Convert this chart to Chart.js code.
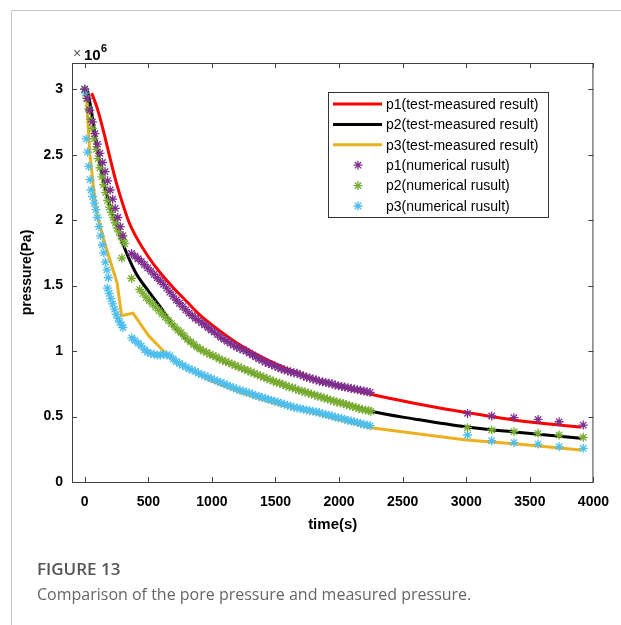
<!DOCTYPE html>
<html>
<head>
<meta charset="utf-8">
<script src="https://cdn.jsdelivr.net/npm/chart.js@4.4.1/dist/chart.umd.min.js"></script>
<style>
  html, body { margin: 0; padding: 0; background: #fff; }
  #wrap { position: relative; width: 621px; height: 625px; overflow: hidden; }
  #frame { position: absolute; left: 11px; top: 10px; right: 0; bottom: 0;
           border-top: 1px solid #c8c8c8; border-left: 1px solid #c8c8c8; }
  #chart { position: absolute; left: 0; top: 0; }
  .capTitle { position: absolute; left: 37px; top: 557px; font: 600 17px "Open Sans"; color: #555; }
  .capText { position: absolute; left: 37px; top: 583px; font: 16px "Open Sans"; color: #666; }
</style>
</head>
<body>
<div id="wrap">
  <div id="frame"></div>
  <canvas id="chart" width="621" height="625"></canvas>
  <div class="capTitle">FIGURE 13</div>
  <div class="capText">Comparison of the pore pressure and measured pressure.</div>
</div>
<script>
// pressure values in units of 10^6 Pa, time in s
const p1TestTime = [55, 100, 150, 200, 250, 300, 350, 400, 500, 600, 700, 800, 900, 1000, 1200, 1400, 1600, 1800, 2000, 2250, 2600, 3000, 3400, 3900];
const p1TestVal  = [2.97, 2.85, 2.67, 2.47, 2.28, 2.12, 1.98, 1.88, 1.72, 1.59, 1.48, 1.38, 1.28, 1.20, 1.06, 0.95, 0.86, 0.79, 0.73, 0.67, 0.60, 0.53, 0.47, 0.42];

const p2TestTime = [20, 50, 100, 150, 200, 250, 300, 400, 500, 600, 700, 800, 900, 1000, 1200, 1400, 1600, 1800, 2000, 2250, 2600, 3000, 3400, 3900];
const p2TestVal  = [3.0, 2.85, 2.53, 2.29, 2.10, 1.96, 1.82, 1.60, 1.46, 1.33, 1.19, 1.09, 1.02, 0.965, 0.88, 0.80, 0.73, 0.67, 0.61, 0.54, 0.48, 0.42, 0.38, 0.335];

const p3TestTime = [10, 25, 41, 60, 75, 100, 150, 200, 255, 290, 380, 500, 640, 750, 1000, 1250, 1500, 1750, 2000, 2250, 2600, 3000, 3400, 3900];
const p3TestVal  = [3.0, 2.75, 2.50, 2.33, 2.20, 2.03, 1.85, 1.69, 1.52, 1.27, 1.29, 1.12, 0.98, 0.90, 0.77, 0.675, 0.60, 0.54, 0.475, 0.415, 0.37, 0.32, 0.29, 0.245];

const p1NumTime = [0, 20, 40, 60, 80, 100, 120, 140, 160, 180, 200, 220, 240, 260, 280, 300,
  368, 395, 420, 445, 470, 495, 520, 545, 570, 595, 620, 645, 670, 695, 720, 745, 770, 795, 820, 845, 870, 895, 920, 945, 970, 995,
  1020, 1045, 1070, 1095, 1120, 1145, 1170, 1195, 1220, 1245, 1270, 1295, 1320, 1345, 1370, 1395, 1420, 1445, 1470, 1495,
  1520, 1545, 1570, 1595, 1620, 1645, 1670, 1695, 1720, 1745, 1770, 1795, 1820, 1845, 1870, 1895, 1920, 1945, 1970, 1995,
  2020, 2045, 2070, 2095, 2120, 2145, 2170, 2195, 2220, 2245,
  3010, 3200, 3375, 3565, 3730, 3920];
const p1NumVal  = [3.0, 2.93, 2.84, 2.75, 2.66, 2.58, 2.51, 2.44, 2.37, 2.30, 2.23, 2.16, 2.09, 2.02, 1.95, 1.88,
  1.745, 1.725, 1.705, 1.685, 1.66, 1.635, 1.61, 1.585, 1.56, 1.535, 1.51, 1.48, 1.45, 1.42, 1.39, 1.365, 1.34, 1.315, 1.29, 1.27, 1.25, 1.235, 1.215, 1.20, 1.18, 1.16,
  1.145, 1.125, 1.105, 1.09, 1.075, 1.06, 1.045, 1.03, 1.02, 1.01, 1.0, 0.985, 0.97, 0.955, 0.94, 0.93, 0.915, 0.905, 0.895, 0.885,
  0.875, 0.865, 0.855, 0.85, 0.84, 0.835, 0.83, 0.82, 0.81, 0.80, 0.795, 0.785, 0.78, 0.77, 0.765, 0.76, 0.755, 0.75, 0.74, 0.735,
  0.73, 0.725, 0.72, 0.715, 0.71, 0.705, 0.70, 0.695, 0.69, 0.685,
  0.524, 0.504, 0.491, 0.478, 0.46, 0.435];

const p2NumTime = [0, 15, 30, 45, 60, 75, 90, 105, 120, 135, 150, 165, 180, 195, 210, 225, 240, 255, 270, 285, 300, 315, 292, 368,
  433, 458, 483, 508, 533, 558, 583, 608, 633, 658, 683, 708, 733, 758, 783, 808, 833, 858, 883, 908, 933, 958, 983,
  1008, 1033, 1058, 1083, 1108, 1133, 1158, 1183, 1208, 1233, 1258, 1283, 1308, 1333, 1358, 1383, 1408, 1433, 1458, 1483,
  1508, 1533, 1558, 1583, 1608, 1633, 1658, 1683, 1708, 1733, 1758, 1783, 1808, 1833, 1858, 1883, 1908, 1933, 1958, 1983,
  2008, 2033, 2058, 2083, 2108, 2133, 2158, 2183, 2208, 2233, 2250,
  3010, 3200, 3375, 3565, 3730, 3920];
const p2NumVal  = [3.0, 2.93, 2.85, 2.77, 2.70, 2.62, 2.54, 2.47, 2.40, 2.33, 2.27, 2.21, 2.15, 2.10, 2.06, 2.02, 1.98, 1.94, 1.91, 1.88, 1.85, 1.82, 1.71, 1.555,
  1.47, 1.44, 1.41, 1.385, 1.36, 1.335, 1.31, 1.285, 1.26, 1.235, 1.21, 1.185, 1.16, 1.14, 1.115, 1.09, 1.07, 1.05, 1.03, 1.015, 1.0, 0.99, 0.975,
  0.965, 0.955, 0.94, 0.93, 0.92, 0.91, 0.90, 0.89, 0.88, 0.87, 0.86, 0.85, 0.84, 0.83, 0.82, 0.81, 0.80, 0.79, 0.78, 0.77,
  0.76, 0.755, 0.745, 0.735, 0.725, 0.72, 0.71, 0.70, 0.695, 0.685, 0.68, 0.67, 0.665, 0.655, 0.65, 0.64, 0.635, 0.625, 0.62, 0.61,
  0.605, 0.60, 0.59, 0.585, 0.575, 0.57, 0.56, 0.555, 0.55, 0.545, 0.54,
  0.415, 0.397, 0.384, 0.372, 0.359, 0.341];

const p3NumTime = [0, 5, 12, 22, 32, 42, 50, 62, 75, 88, 100, 112, 125, 138, 150, 162, 174, 186,
  178, 192, 206, 220, 234, 248, 262, 276, 290, 301,
  370, 395, 420, 445, 470, 495, 520, 545, 570, 595, 620, 645, 670, 695, 720, 745, 770, 795, 820, 845, 870, 895, 920, 945, 970, 995,
  1020, 1045, 1070, 1095, 1120, 1145, 1170, 1195, 1220, 1245, 1270, 1295, 1320, 1345, 1370, 1395, 1420, 1445, 1470, 1495,
  1520, 1545, 1570, 1595, 1620, 1645, 1670, 1695, 1720, 1745, 1770, 1795, 1820, 1845, 1870, 1895, 1920, 1945, 1970, 1995,
  2020, 2045, 2070, 2095, 2120, 2145, 2170, 2195, 2220, 2245,
  3010, 3200, 3375, 3565, 3730, 3920];
const p3NumVal  = [3.0, 2.97, 2.62, 2.52, 2.41, 2.31, 2.23, 2.18, 2.13, 2.08, 2.02, 1.95, 1.88, 1.81, 1.75, 1.68, 1.62, 1.56,
  1.48, 1.44, 1.40, 1.36, 1.32, 1.28, 1.25, 1.22, 1.20, 1.18,
  1.10, 1.08, 1.06, 1.04, 1.01, 0.99, 0.98, 0.975, 0.97, 0.97, 0.975, 0.97, 0.965, 0.94, 0.92, 0.905, 0.89, 0.88, 0.865, 0.855, 0.845, 0.83, 0.82, 0.81, 0.80, 0.79,
  0.78, 0.77, 0.76, 0.75, 0.74, 0.73, 0.72, 0.71, 0.70, 0.695, 0.685, 0.68, 0.67, 0.66, 0.655, 0.645, 0.64, 0.63, 0.625, 0.615,
  0.61, 0.60, 0.595, 0.585, 0.58, 0.57, 0.565, 0.56, 0.555, 0.55, 0.545, 0.54, 0.535, 0.53, 0.52, 0.515, 0.51, 0.505, 0.495, 0.49,
  0.485, 0.48, 0.47, 0.465, 0.46, 0.455, 0.445, 0.44, 0.435, 0.43,
  0.359, 0.315, 0.30, 0.29, 0.27, 0.257];

const xTicks = [0, 500, 1000, 1500, 2000, 2500, 3000, 3500, 4000];
const xTickLabels = ['0', '500', '1000', '1500', '2000', '2500', '3000', '3500', '4000'];
const yTicks = [0, 0.5, 1, 1.5, 2, 2.5, 3];
const yTickLabels = ['0', '0.5', '1', '1.5', '2', '2.5', '3'];

function pts(t, v) {
  return t.map((x, i) => ({ x: x, y: v[i] }));
}

function lineSet(label, t, v, color, smooth) {
  return {
    label, data: pts(t, v), showLine: true, borderColor: color, backgroundColor: color,
    borderWidth: 3, pointRadius: 0, tension: 0,
    cubicInterpolationMode: smooth ? 'monotone' : 'default', order: 2
  };
}

function starSet(label, t, v, color) {
  return {
    label, data: pts(t, v), showLine: false, borderColor: color, backgroundColor: color,
    pointStyle: 'star', pointRadius: 4.5, pointBorderWidth: 1.3, order: 1
  };
}

const AXIS = '#404040';
const FAMILY = '"Liberation Sans", Arial, Helvetica, sans-serif';
const tickFont = { family: FAMILY, size: 14, weight: 'bold' };

// matlab style box with inward ticks and the x10^6 exponent
const boxPlugin = {
  id: 'boxPlugin',
  afterDraw(chart) {
    const { ctx, chartArea: a, scales } = chart;
    ctx.save();
    ctx.strokeStyle = AXIS;
    ctx.lineWidth = 1;
    ctx.strokeRect(a.left + 0.5, a.top + 0.5, a.right - a.left - 1, a.bottom - a.top);
    ctx.beginPath();
    xTicks.forEach(v => {
      const x = Math.round(scales.x.getPixelForValue(v)) + 0.5;
      ctx.moveTo(x, a.bottom); ctx.lineTo(x, a.bottom - 5);
      ctx.moveTo(x, a.top); ctx.lineTo(x, a.top + 5);
    });
    yTicks.forEach(v => {
      const y = Math.round(scales.y.getPixelForValue(v)) + 0.5;
      ctx.moveTo(a.left, y); ctx.lineTo(a.left + 5, y);
      ctx.moveTo(a.right, y); ctx.lineTo(a.right - 5, y);
    });
    ctx.stroke();

    ctx.textBaseline = 'alphabetic';
    ctx.fillStyle = '#555';
    ctx.font = '14px ' + FAMILY;
    ctx.fillText('\u00d7', a.left + 1, a.top - 5);
    ctx.fillStyle = '#000';
    ctx.font = 'bold 15px ' + FAMILY;
    ctx.fillText('10', a.left + 12, a.top - 3);
    ctx.font = 'bold 11px ' + FAMILY;
    ctx.fillText('6', a.left + 29, a.top - 11);
    ctx.restore();
  }
};

const legendPlugin = {
  id: 'legendPlugin',
  afterDraw(chart) {
    const ctx = chart.ctx;
    const x0 = 328, y0 = 92, w = 220, h = 125;
    ctx.save();
    ctx.fillStyle = '#fff';
    ctx.fillRect(x0, y0, w, h);
    ctx.strokeStyle = '#333';
    ctx.lineWidth = 1;
    ctx.strokeRect(x0 + 0.5, y0 + 0.5, w, h);
    ctx.font = '14px ' + FAMILY;
    ctx.textBaseline = 'middle';
    chart.data.datasets.forEach((ds, i) => {
      const y = y0 + 12 + i * 20.4;
      ctx.strokeStyle = ds.borderColor;
      if (ds.showLine) {
        ctx.lineWidth = 3;
        ctx.beginPath();
        ctx.moveTo(x0 + 5, y); ctx.lineTo(x0 + 54, y);
        ctx.stroke();
      } else {
        ctx.lineWidth = 1.3;
        Chart.helpers.drawPoint(ctx, { pointStyle: 'star', radius: 4.5, borderWidth: 1.3 }, x0 + 30, y);
      }
      ctx.fillStyle = '#000';
      ctx.fillText(ds.label, x0 + 58, y + 1);
    });
    ctx.restore();
  }
};

new Chart(document.getElementById('chart'), {
  type: 'scatter',
  data: {
    datasets: [
      lineSet('p1(test-measured result)', p1TestTime, p1TestVal, '#ff0000', true),
      lineSet('p2(test-measured result)', p2TestTime, p2TestVal, '#000000', true),
      lineSet('p3(test-measured result)', p3TestTime, p3TestVal, '#edb120', false),
      starSet('p1(numerical rusult)', p1NumTime, p1NumVal, '#7e2f8e'),
      starSet('p2(numerical rusult)', p2NumTime, p2NumVal, '#77ac30'),
      starSet('p3(numerical rusult)', p3NumTime, p3NumVal, '#4dbeee')
    ]
  },
  options: {
    responsive: false,
    animation: false,
    layout: { padding: { left: 12, top: 63, right: 19, bottom: 90 } },
    plugins: { legend: { display: false }, tooltip: { enabled: false } },
    scales: {
      x: {
        type: 'linear', min: -100, max: 4000,
        afterBuildTicks: s => { s.ticks = xTicks.map(v => ({ value: v })); },
        afterFit: s => { s.height = 53; },
        grid: { display: false, drawTicks: false },
        border: { display: false },
        ticks: { padding: 12, color: '#000', font: tickFont, maxRotation: 0, autoSkip: false,
                 callback: (v, i) => xTickLabels[i] },
        title: { display: true, text: 'time(s)', color: '#000', padding: { top: 0, bottom: 1 },
                 font: { family: FAMILY, size: 15, weight: 'bold' } }
      },
      y: {
        type: 'linear', min: 0, max: 3.2,
        afterBuildTicks: s => { s.ticks = yTicks.map(v => ({ value: v })); },
        afterFit: s => { s.width = 60; },
        grid: { display: false, drawTicks: false },
        border: { display: false },
        ticks: { padding: 9, color: '#000', font: tickFont, autoSkip: false,
                 callback: (v, i) => yTickLabels[i] },
        title: { display: true, text: 'pressure(Pa)', color: '#000', padding: { top: 7, bottom: 0 },
                 font: { family: FAMILY, size: 14, weight: 'bold' } }
      }
    }
  },
  plugins: [boxPlugin, legendPlugin]
});
</script>
</body>
</html>
